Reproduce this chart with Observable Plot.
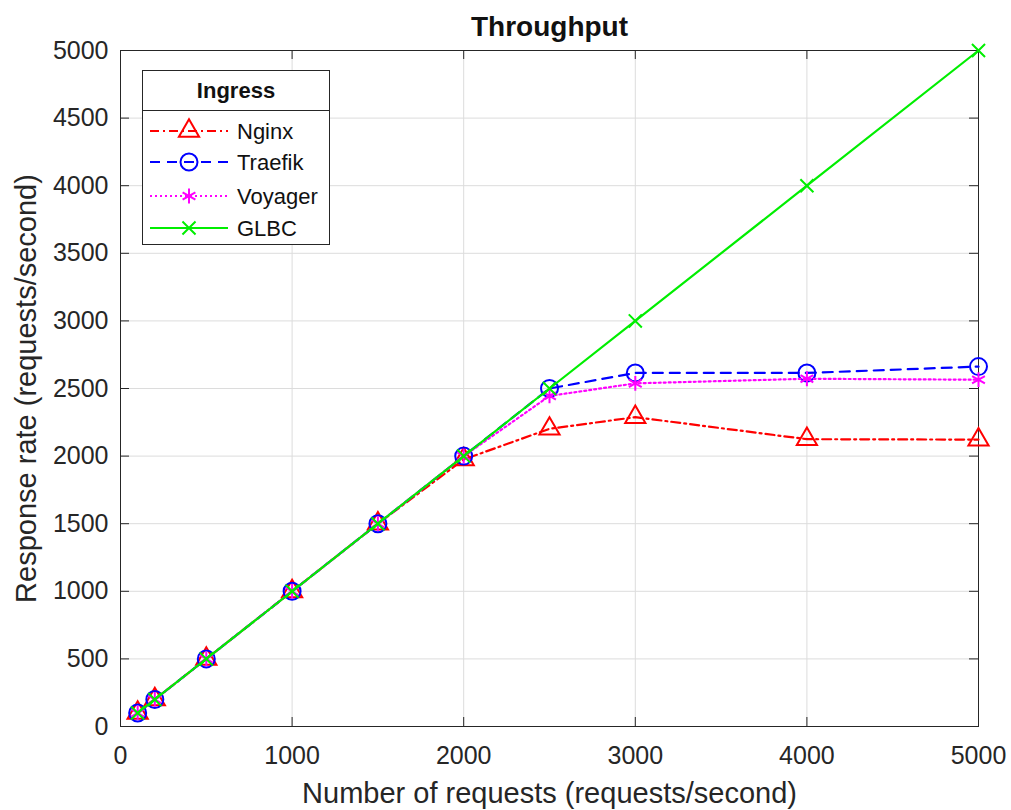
<!DOCTYPE html>
<html>
<head>
<meta charset="utf-8">
<script src="https://cdn.jsdelivr.net/npm/d3@7"></script>
<script src="https://cdn.jsdelivr.net/npm/@observablehq/plot@0.6"></script>
<style>
  body { margin: 0; background: #fff; }
  #wrap { position: relative; width: 1011px; height: 810px; font-family: "Liberation Sans", Arial, sans-serif; }
  #legend { position: absolute; left: 142px; top: 70px; width: 188px; height: 175px; border: 1px solid #262626; background: #fff; box-sizing: border-box; }
  #legend .ttl { height: 39px; line-height: 39px; text-align: center; font-weight: bold; font-size: 22px; color: #111; border-bottom: 1px solid #262626; }
</style>
</head>
<body>
<div id="wrap"><div id="legend"><div class="ttl">Ingress</div></div></div>
<script>
const title = "Throughput";
const xLabel = "Number of requests (requests/second)";
const yLabel = "Response rate (requests/second)";
const legendTitle = "Ingress";
const requests = [100, 200, 500, 1000, 1500, 2000, 2500, 3000, 4000, 5000];
const nginx   = [100, 200, 500, 1000, 1500, 1975, 2202, 2288, 2125, 2122];
const traefik = [100, 200, 500, 1000, 1500, 2000, 2500, 2615, 2615, 2662];
const voyager = [100, 200, 500, 1000, 1500, 2000, 2445, 2538, 2572, 2565];
const glbc    = [100, 200, 500, 1000, 1500, 2000, 2500, 3000, 4000, 5000];
const xTicks = [0, 1000, 2000, 3000, 4000, 5000];
const yTicks = [0, 500, 1000, 1500, 2000, 2500, 3000, 3500, 4000, 4500, 5000];

const series = [
  {name: "Nginx",   values: nginx,   color: "#ff0000", dash: "9,4,2,4", symbol: "triangle", r: 7.5},
  {name: "Traefik", values: traefik, color: "#0000ff", dash: "10,7",    symbol: "circle",   r: 8.5},
  {name: "Voyager", values: voyager, color: "#ff00ff", dash: "2,3",     symbol: "asterisk", r: 7},
  {name: "GLBC",    values: glbc,    color: "#00ee00", dash: null,      symbol: "times",    r: 6}
];

const W = 1011, H = 810, mL = 120, mR = 33, mT = 50, mB = 84;
const fw = W - mL - mR, fh = H - mT - mB, tk = 9;
const ink = "#262626";
const fmt = d3.format("d");

const marks = [
  Plot.gridX(xTicks, {stroke: "#dcdcdc", strokeOpacity: 1}),
  Plot.gridY(yTicks, {stroke: "#dcdcdc", strokeOpacity: 1}),
  Plot.frame({stroke: ink}),
  Plot.tickX(xTicks, {x: d => d, stroke: ink, insetTop: fh - tk}),
  Plot.tickX(xTicks, {x: d => d, stroke: ink, insetBottom: fh - tk}),
  Plot.tickY(yTicks, {y: d => d, stroke: ink, insetRight: fw - tk}),
  Plot.tickY(yTicks, {y: d => d, stroke: ink, insetLeft: fw - tk}),
  Plot.axisX({ticks: xTicks, tickFormat: fmt, tickSize: 0, tickPadding: 20, label: null, fontSize: 25, fill: ink}),
  Plot.axisY({ticks: yTicks, tickFormat: fmt, tickSize: 0, tickPadding: 12, label: null, fontSize: 25, fill: ink}),
];
for (const s of series) {
  const data = requests.map((x, i) => ({x, y: s.values[i]}));
  marks.push(Plot.line(data, {x: "x", y: "y", stroke: s.color, strokeWidth: 2.2, strokeDasharray: s.dash}));
  marks.push(Plot.dot(data, {x: "x", y: "y", symbol: s.symbol, r: s.r, stroke: s.color, fill: "none", strokeWidth: 2}));
}
marks.push(Plot.text([title], {frameAnchor: "top", dy: -23, lineAnchor: "middle", fontSize: 28, fontWeight: "bold", fill: "#111"}));
marks.push(Plot.text([xLabel], {frameAnchor: "bottom", dy: 67, textAnchor: "middle", lineAnchor: "middle", fontSize: 29, fill: ink}));
marks.push(Plot.text([yLabel], {frameAnchor: "left", dx: -94, rotate: -90, textAnchor: "middle", lineAnchor: "middle", fontSize: 29, fill: ink}));

const chart = Plot.plot({
  width: W, height: H,
  marginLeft: mL, marginRight: mR, marginTop: mT, marginBottom: mB,
  x: {domain: [0, 5000]},
  y: {domain: [0, 5000]},
  style: {fontFamily: "'Liberation Sans', Arial, sans-serif", background: "#fff", color: ink, overflow: "visible"},
  marks
});
document.getElementById("wrap").prepend(chart);

// Legend (samples drawn from the same series definitions)
const symMap = {triangle: d3.symbolTriangle, circle: d3.symbolCircle, asterisk: d3.symbolAsterisk, times: d3.symbolTimes};
const lg = d3.select("#legend").append("svg").attr("width", 186).attr("height", 134)
  .style("display", "block").style("font-family", "'Liberation Sans', Arial, sans-serif");
const rowY = [20, 51, 85, 117];
series.forEach((s, i) => {
  const g = lg.append("g").attr("transform", `translate(0,${rowY[i]})`);
  g.append("line").attr("x1", 7).attr("x2", 85).attr("stroke", s.color).attr("stroke-width", 2)
    .attr("stroke-dasharray", s.dash);
  g.append("path").attr("transform", "translate(46,0)")
    .attr("d", d3.symbol(symMap[s.symbol], Math.PI * s.r * s.r)())
    .attr("fill", "none").attr("stroke", s.color).attr("stroke-width", 2);
  g.append("text").attr("x", 94).attr("dy", "0.35em").attr("font-size", 22).attr("fill", "#111").text(s.name);
});
</script>
</body>
</html>
